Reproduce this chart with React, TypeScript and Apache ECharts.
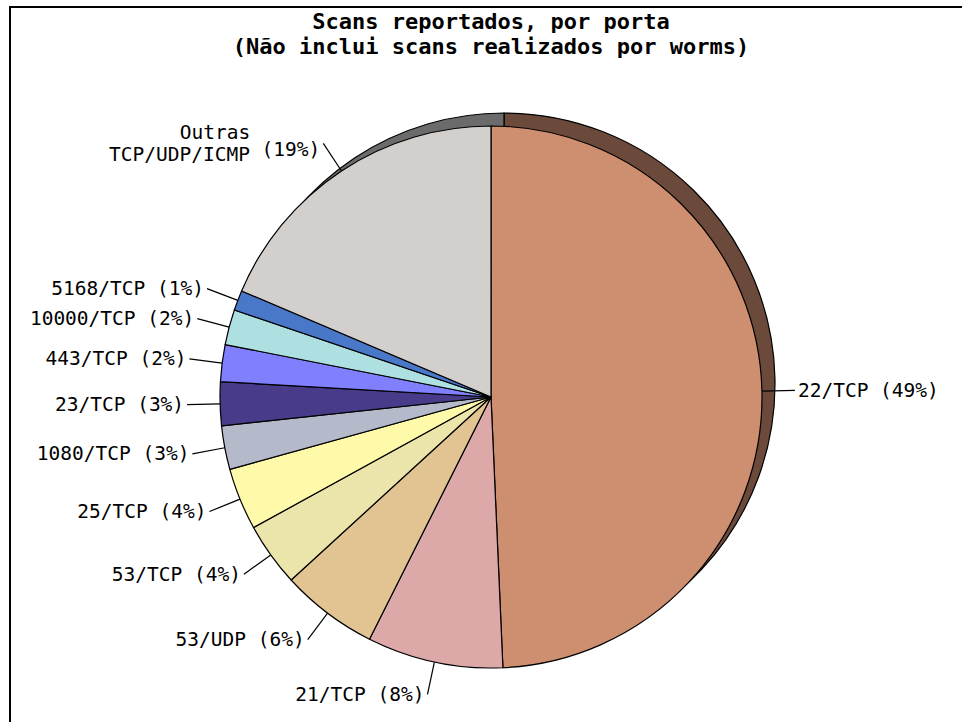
import React, { useEffect, useRef } from "react";
import * as echarts from "echarts";

// Port categories, clockwise from 12 o'clock
const ports = [
  "22/TCP",
  "21/TCP",
  "53/UDP",
  "53/TCP",
  "25/TCP",
  "1080/TCP",
  "23/TCP",
  "443/TCP",
  "10000/TCP",
  "5168/TCP",
  "Outras\nTCP/UDP/ICMP",
];

// Share of reported scans (%)
const shares = [49.3, 8.1, 5.8, 3.8, 3.7, 2.6, 2.6, 2.2, 2.1, 1.2, 18.6];

// Top face colours of each slice
const faceColors = [
  "#CE8E70",
  "#DCA8A8",
  "#E2C492",
  "#ECE5AB",
  "#FFFAAA",
  "#B4BACA",
  "#483C8A",
  "#8080FF",
  "#AEE0E2",
  "#4A78C8",
  "#D3CFCC",
];

// Darker side colours used for the extruded edge
const sideColors = [
  "#6B4A3B",
  "#735858",
  "#76664C",
  "#7B7759",
  "#858259",
  "#5E6169",
  "#251F48",
  "#434385",
  "#5A7476",
  "#263E68",
  "#6B6B6B",
];

const TITLE = "Scans reportados, por porta\n(Não inclui scans realizados por worms)";

const MONO = "'DejaVu Sans Mono', 'Liberation Mono', monospace";
const LABEL_SIZE = 19.5;
const CX = 491;
const CY = 397;
const R = 271;
const DEPTH_X = 13;
const DEPTH_Y = -13;

export default function App() {
  const ref = useRef<HTMLDivElement>(null);

  useEffect(() => {
    if (!ref.current) return;
    const chart = echarts.init(ref.current, undefined, { renderer: "svg" });

    const frontData = ports.map((name, i) => ({
      name,
      value: shares[i],
      itemStyle: { color: faceColors[i] },
    }));
    const sideData = ports.map((name, i) => ({
      name,
      value: shares[i],
      itemStyle: { color: sideColors[i] },
    }));

    // Multi-line names: the name lines stay right-aligned together and the
    // percentage sits beside the last line, slightly raised.
    const labelText = (p: any) => {
      const pct = `(${Math.round(p.percent)}%)`;
      const lines = String(p.name).split("\n");
      if (lines.length === 1) return `{n|${p.name} ${pct}}`;
      const last = lines.pop() as string;
      return lines.map((l) => `{o|${l}}`).join("\n") + `\n{m|${last} }{p|${pct}}`;
    };

    const pctWidth = Math.round(6 * LABEL_SIZE * 0.602);
    const txt = { fontFamily: MONO, fontSize: LABEL_SIZE, color: "#000" };

    chart.setOption({
      animation: false,
      backgroundColor: "#ffffff",
      title: {
        text: TITLE,
        left: 486,
        top: 4,
        textAlign: "center",
        textStyle: {
          fontFamily: MONO,
          fontWeight: "bold",
          fontSize: 22,
          lineHeight: 25,
          color: "#000",
        },
      },
      graphic: [
        {
          type: "rect",
          shape: { x: 10, y: 7, width: 1000, height: 800 },
          style: { fill: "none", stroke: "#000", lineWidth: 2 },
          silent: true,
        },
      ],
      series: [
        {
          type: "pie",
          name: "side",
          silent: true,
          center: [CX + DEPTH_X, CY + DEPTH_Y],
          radius: [0, R],
          startAngle: 90,
          clockwise: true,
          label: { show: false },
          labelLine: { show: false },
          emphasis: { disabled: true },
          itemStyle: { borderColor: "#000", borderWidth: 1.2 },
          data: sideData,
          z: 1,
        },
        {
          type: "pie",
          name: "face",
          silent: true,
          center: [CX, CY],
          radius: [0, R],
          startAngle: 90,
          clockwise: true,
          emphasis: { disabled: true },
          itemStyle: { borderColor: "#000", borderWidth: 1.2 },
          label: {
            show: true,
            position: "outside",
            distanceToLabelLine: 3,
            formatter: labelText,
            ...txt,
            rich: {
              n: { ...txt, lineHeight: 20 },
              o: { ...txt, lineHeight: 22, padding: [0, pctWidth, 0, 0] },
              m: { ...txt, lineHeight: 22 },
              p: { ...txt, lineHeight: 22, padding: [0, 0, 10, 0] },
            },
          },
          labelLine: {
            show: true,
            length: 33,
            length2: 0,
            smooth: false,
            lineStyle: { color: "#000", width: 1.2 },
          },
          data: frontData,
          z: 2,
        },
      ],
    });

    return () => chart.dispose();
  }, []);

  return (
    <div
      ref={ref}
      style={{ position: "fixed", left: 0, top: 0, width: 962, height: 722 }}
    />
  );
}
